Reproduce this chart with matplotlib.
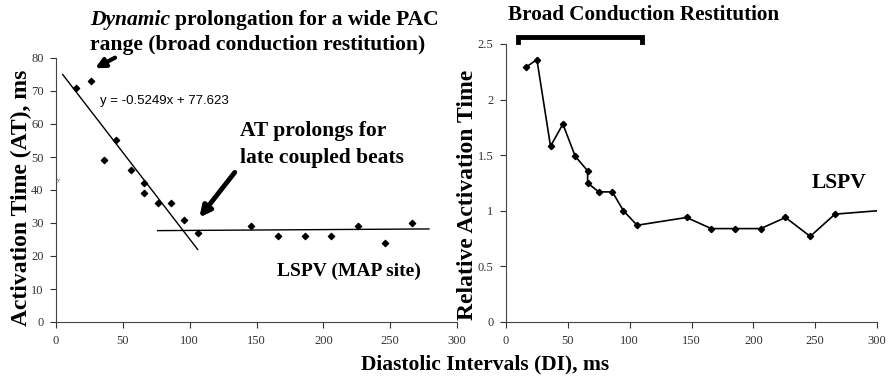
import numpy as np
import matplotlib
matplotlib.use("Agg")
import matplotlib.pyplot as plt

# Datos del panel izquierdo (AT absoluto)
di_left = [15, 26, 36, 45, 56, 66, 66, 76, 86, 96, 106, 146, 166, 186, 206, 226, 246, 266]
at_left = [71, 73, 49, 55, 46, 42, 39, 36, 36, 31, 27, 29, 26, 26, 26, 29, 24, 30]

# Recta de ajuste (pendiente) y meseta
fit_slope, fit_intercept = -0.5249, 77.623
fit_range = [5, 106]
plateau_slope, plateau_intercept = 0.0025, 27.5
plateau_range = [76, 279]

# Datos del panel derecho (AT relativo)
di_right = [16, 25, 36, 46, 56, 66, 66, 75, 86, 95, 106, 146, 166, 185, 206, 226, 246, 266, 300]
rel_right = [2.29, 2.36, 1.58, 1.78, 1.49, 1.36, 1.25, 1.17, 1.17, 1.0, 0.87, 0.94,
             0.84, 0.84, 0.84, 0.94, 0.77, 0.97, 1.0]
bracket_range = [10, 110]

W, H = 888, 379
serif = "Liberation Serif"
sans = "Liberation Sans"

fig = plt.figure(figsize=(W / 100, H / 100), dpi=100)

def px(x, y):
    return x / W, 1 - y / H

def style_axes(ax, xfont, yfont):
    for s in ["top", "right"]:
        ax.spines[s].set_visible(False)
    ax.spines["left"].set_color("#444444")
    ax.spines["bottom"].set_color("#444444")
    ax.tick_params(direction="out", length=4, width=0.8, colors="#333333", pad=5)
    for lab in ax.get_xticklabels():
        lab.set_fontfamily(xfont)
        lab.set_fontsize(9)
    for lab in ax.get_yticklabels():
        lab.set_fontfamily(yfont)
        lab.set_fontsize(9)

# ---- panel izquierdo
ax1 = fig.add_axes([56 / W, 1 - 322 / H, 401 / W, 264 / H])
ax1.scatter(di_left, at_left, marker="D", s=10, color="black", zorder=3)
xf = np.array(fit_range)
ax1.plot(xf, fit_slope * xf + fit_intercept, color="black", lw=1)
xp = np.array(plateau_range)
ax1.plot(xp, plateau_slope * xp + plateau_intercept, color="black", lw=1)
ax1.set_xlim(0, 300)
ax1.set_ylim(0, 80)
ax1.set_xticks(range(0, 301, 50))
ax1.set_yticks(range(0, 81, 10))
style_axes(ax1, serif, serif)

ax1.annotate("", xy=(27.5, 76.5), xytext=(46, 80.5), annotation_clip=False,
             arrowprops=dict(arrowstyle="-|>", lw=3, color="black", mutation_scale=14))
ax1.annotate("", xy=(106, 31), xytext=(135, 46), annotation_clip=False,
             arrowprops=dict(arrowstyle="-|>", lw=3.5, color="black", mutation_scale=16))
ax1.text(0.5, 42.5, "y", fontsize=5, style="italic", family=serif, color="#444444")

fig.text(*px(21, 198), "Activation Time (AT), ms", family=serif, fontweight="bold",
         fontsize=17, rotation=90, va="center", ha="center")

# titulo de dos lineas con "Dynamic" en cursiva
t_dyn = fig.text(*px(90, 20), "Dynamic", family=serif, fontsize=15.5, style="italic",
                 fontweight="bold", va="center", ha="left")
fig.canvas.draw()
bb = t_dyn.get_window_extent()
fig.text(bb.x1 / W + 5 / W, 1 - 20 / H, "prolongation for a wide PAC", family=serif,
         fontsize=15.5, fontweight="bold", va="center", ha="left")
fig.text(*px(90, 45), "range (broad conduction restitution)", family=serif, fontsize=15.5,
         fontweight="bold", va="center", ha="left")
fig.text(*px(100, 101), "y = -0.5249x + 77.623", family=sans, fontsize=9.5, va="center", ha="left")
fig.text(*px(240, 131), "AT prolongs for", family=serif, fontsize=15.5, fontweight="bold",
         va="center", ha="left")
fig.text(*px(240, 158), "late coupled beats", family=serif, fontsize=15.5, fontweight="bold",
         va="center", ha="left")
fig.text(*px(277, 271), "LSPV (MAP site)", family=serif, fontsize=14, fontweight="bold",
         va="center", ha="left")

# ---- panel derecho
ax2 = fig.add_axes([506 / W, 1 - 322 / H, 371 / W, 278 / H])
ax2.plot(di_right, rel_right, color="black", lw=1.2, marker="D", markersize=3.2,
         markevery=list(range(len(di_right) - 1)))
ax2.set_xlim(0, 300)
ax2.set_ylim(0, 2.5)
ax2.set_xticks(range(0, 301, 50))
ax2.set_yticks([0, 0.5, 1, 1.5, 2, 2.5])
ax2.set_yticklabels(["0", "0.5", "1", "1.5", "2", "2.5"])
style_axes(ax2, serif, serif)

b0, b1 = bracket_range
ax2.plot([b0, b0, b1, b1], [2.52, 2.56, 2.56, 2.52], color="black", lw=3.5,
         solid_joinstyle="miter", clip_on=False)

fig.text(*px(467, 195), "Relative Activation Time", family=serif, fontweight="bold",
         fontsize=17, rotation=90, va="center", ha="center")
fig.text(*px(644, 15), "Broad Conduction Restitution", family=serif, fontsize=15.2,
         fontweight="bold", va="center", ha="center")
fig.text(*px(839, 183), "LSPV", family=serif, fontsize=15.5, fontweight="bold",
         va="center", ha="center")

fig.text(*px(485, 364), "Diastolic Intervals (DI), ms", family=serif, fontsize=15.5,
         fontweight="bold", va="center", ha="center")

fig.savefig("out.png", dpi=100, facecolor="white")
